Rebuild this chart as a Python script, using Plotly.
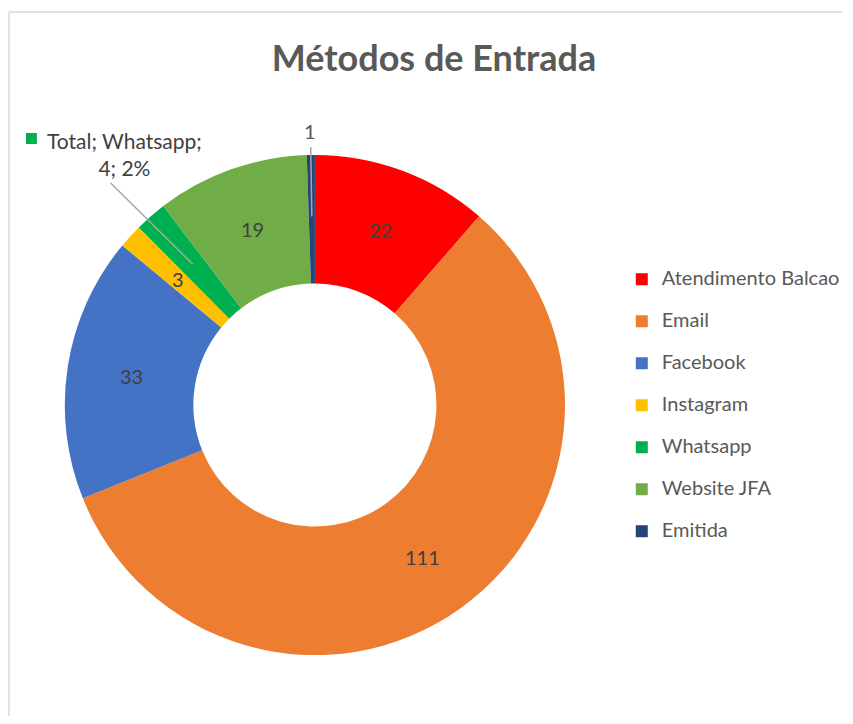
import math
import plotly.graph_objects as go

# ---------------- data ----------------
categories = ["Atendimento Balcao", "Email", "Facebook", "Instagram",
              "Whatsapp", "Website JFA", "Emitida"]
values = [22, 111, 33, 3, 4, 19, 1]
colors = ["#FF0000", "#ED7D31", "#4472C4", "#FFC000",
          "#00B050", "#70AD47", "#264478"]
title_text = "Métodos de Entrada"
callout_category = "Whatsapp"     # shown with a callout label
outside_category = "Emitida"      # label outside with leader line
series_name = "Total"

# ---------------- geometry / style ----------------
PAGE_OFF = 8               # default body margin of the html page
W, H = 853 - 2 * PAGE_OFF, 724 - 2 * PAGE_OFF   # keep page from overflowing
CX, CY = 316, 405          # pie centre (window pixels from top-left)
R_OUT = 251
HOLE = 0.486
R_MID = R_OUT * (1 + HOLE) / 2
FONT = "Lato, 'Open Sans', sans-serif"
LABEL_SIZE = 20
CALLOUT_SIZE = 21
LEGEND_SIZE = 20


def to_paper(x, y):
    return (x - PAGE_OFF) / W, 1 - (y - PAGE_OFF) / H


def polar(theta_deg, r):
    t = math.radians(theta_deg)
    return CX + r * math.sin(t), CY - r * math.cos(t)


total = sum(values)
mids = []
cum = 0
for v in values:
    mids.append((cum + v / 2) / total * 360)
    cum += v

legend_labels = [f"<span style='font-size:{LEGEND_SIZE}px'>{c}</span><br> " for c in categories]

dx0, dy1 = to_paper(CX - R_OUT, CY - R_OUT)
dx1, dy0 = to_paper(CX + R_OUT, CY + R_OUT)

fig = go.Figure()
fig.add_trace(go.Pie(
    labels=legend_labels,
    values=values,
    hole=HOLE,
    sort=False,
    direction="clockwise",
    rotation=0,
    textinfo="none",
    marker=dict(colors=colors, line=dict(width=0)),
    domain=dict(x=[dx0, dx1], y=[dy0, dy1]),
    hovertext=categories,
    hoverinfo="text+value+percent",
))

annotations = []
shapes = []

for cat, v, m in zip(categories, values, mids):
    if cat == callout_category:
        continue
    if cat == outside_category:
        lx, ly = polar(m, R_OUT + 23)
        px, py = to_paper(lx, ly)
        annotations.append(dict(x=px, y=py, xref="paper", yref="paper",
                                text=str(v), showarrow=False,
                                font=dict(family=FONT, size=LABEL_SIZE, color="#595959"),
                                xanchor="center", yanchor="middle"))
        x0, y0 = to_paper(*polar(m, R_OUT + 7))
        x1, y1 = to_paper(*polar(m, R_MID + 2))
        shapes.append(dict(type="line", xref="paper", yref="paper",
                           x0=x0, y0=y0, x1=x1, y1=y1,
                           line=dict(color="#A6A6A6", width=1.5)))
        continue
    lx, ly = polar(m, R_MID)
    px, py = to_paper(lx, ly)
    annotations.append(dict(x=px, y=py, xref="paper", yref="paper",
                            text=str(v), showarrow=False,
                            font=dict(family=FONT, size=LABEL_SIZE, color="#404040"),
                            xanchor="center", yanchor="middle"))

# callout for Whatsapp
ci = categories.index(callout_category)
pct = round(values[ci] / total * 100)
cx_txt, cy_txt = to_paper(125, 154)
annotations.append(dict(x=cx_txt, y=cy_txt, xref="paper", yref="paper",
                        text=f"{series_name}; {callout_category};<br>{values[ci]}; {pct}%",
                        showarrow=False, align="center",
                        font=dict(family=FONT, size=CALLOUT_SIZE, color="#404040"),
                        xanchor="center", yanchor="middle"))
sx0, sy0 = to_paper(26, 144)
sx1, sy1 = to_paper(37, 133)
shapes.append(dict(type="rect", xref="paper", yref="paper",
                   x0=sx0, y0=sy0, x1=sx1, y1=sy1,
                   fillcolor=colors[ci], line=dict(width=0)))
lx0, ly0 = to_paper(111, 183)
lx1, ly1 = to_paper(*polar(mids[ci], R_MID))
shapes.append(dict(type="line", xref="paper", yref="paper",
                   x0=lx0, y0=ly0, x1=lx1, y1=ly1,
                   line=dict(color="#A6A6A6", width=1.5)))

# chart frame: only its top and left edges fall inside the window
fx0, fy1 = to_paper(PAGE_OFF + 1, 12)
frame_line = dict(color="#D9D9D9", width=1.5)
shapes.append(dict(type="line", xref="paper", yref="paper",
                   x0=fx0, y0=fy1, x1=1, y1=fy1, line=frame_line, layer="below"))
shapes.append(dict(type="line", xref="paper", yref="paper",
                   x0=fx0, y0=0, x1=fx0, y1=fy1, line=frame_line, layer="below"))

tx, ty = to_paper(434, 58)
lgx, lgy = to_paper(624, 263)
fig.update_layout(
    width=W, height=H,
    margin=dict(l=0, r=0, t=0, b=0),
    paper_bgcolor="white",
    plot_bgcolor="white",
    title=dict(text=f"<b>{title_text}</b>", x=tx, y=ty,
               xanchor="center", yanchor="middle",
               font=dict(family=FONT, size=36, color="#595959")),
    showlegend=True,
    legend=dict(x=lgx, y=lgy, xanchor="left", yanchor="top",
                font=dict(family=FONT, size=15, color="#595959"),
                valign="top", bgcolor="rgba(0,0,0,0)", traceorder="normal"),
    annotations=annotations,
    shapes=shapes,
)

fig.write_html("out.html")
